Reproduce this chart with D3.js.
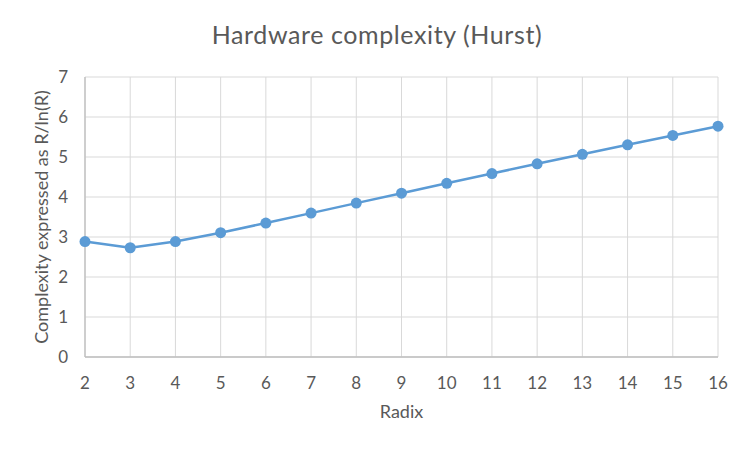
<!DOCTYPE html>
<html>
<head>
<meta charset="utf-8">
<script src="https://cdn.jsdelivr.net/npm/d3@7"></script>
<style>
  body { margin: 0; background: #fff; }
  text { font-family: Lato, "Open Sans", sans-serif; fill: #595959; }
</style>
</head>
<body>
<svg id="chart" width="750" height="450"></svg>
<script>
var radix = [2, 3, 4, 5, 6, 7, 8, 9, 10, 11, 12, 13, 14, 15, 16];
var complexity = [2.885, 2.731, 2.885, 3.107, 3.349, 3.597, 3.847, 4.096, 4.343, 4.587, 4.829, 5.068, 5.305, 5.539, 5.771];
var yTicks = [0, 1, 2, 3, 4, 5, 6, 7];

var svg = d3.select("#chart");
var plotLeft = 85, plotRight = 718, plotTop = 77, plotBottom = 357;

var x = d3.scaleLinear().domain([2, 16]).range([plotLeft, plotRight]);
var y = d3.scaleLinear().domain([0, 7]).range([plotBottom, plotTop]);

// gridlines
svg.append("g").selectAll("line")
  .data(yTicks)
  .enter().append("line")
  .attr("x1", plotLeft).attr("x2", plotRight)
  .attr("y1", function(d) { return y(d); })
  .attr("y2", function(d) { return y(d); })
  .attr("stroke", "#d9d9d9").attr("stroke-width", 1);

svg.append("g").selectAll("line")
  .data(radix)
  .enter().append("line")
  .attr("x1", function(d) { return x(d); })
  .attr("x2", function(d) { return x(d); })
  .attr("y1", plotTop).attr("y2", plotBottom)
  .attr("stroke", "#d9d9d9").attr("stroke-width", 1);

// axis lines
svg.append("line")
  .attr("x1", plotLeft).attr("x2", plotRight).attr("y1", plotBottom).attr("y2", plotBottom)
  .attr("stroke", "#bfbfbf").attr("stroke-width", 1.3);
svg.append("line")
  .attr("x1", plotLeft).attr("x2", plotLeft).attr("y1", plotTop).attr("y2", plotBottom)
  .attr("stroke", "#bfbfbf").attr("stroke-width", 1.3);

// tick labels
svg.append("g").selectAll("text")
  .data(yTicks)
  .enter().append("text")
  .attr("x", 68)
  .attr("y", function(d) { return y(d); })
  .attr("dy", ".35em")
  .attr("text-anchor", "end")
  .style("font-size", "17px")
  .text(function(d) { return d; });

svg.append("g").selectAll("text")
  .data(radix)
  .enter().append("text")
  .attr("x", function(d) { return x(d); })
  .attr("y", 389)
  .attr("text-anchor", "middle")
  .style("font-size", "17px")
  .text(function(d) { return d; });

// titles
svg.append("text")
  .attr("x", 377).attr("y", 44)
  .attr("text-anchor", "middle")
  .style("font-size", "25px")
  .style("letter-spacing", "0.6px")
  .text("Hardware complexity (Hurst)");

svg.append("text")
  .attr("x", (plotLeft + plotRight) / 2).attr("y", 418)
  .attr("text-anchor", "middle")
  .style("font-size", "18px")
  .text("Radix");

svg.append("text")
  .attr("transform", "translate(48," + (plotTop + plotBottom) / 2 + ") rotate(-90)")
  .attr("text-anchor", "middle")
  .style("font-size", "18px")
  .text("Complexity expressed as R/ln(R)");

// series
var pts = radix.map(function(r, i) { return [r, complexity[i]]; });
var line = d3.line()
  .x(function(d) { return x(d[0]); })
  .y(function(d) { return y(d[1]); });

svg.append("path")
  .datum(pts)
  .attr("d", line)
  .attr("fill", "none")
  .attr("stroke", "#5b9bd5")
  .attr("stroke-width", 2.5)
  .attr("stroke-linejoin", "round");

svg.append("g").selectAll("circle")
  .data(pts)
  .enter().append("circle")
  .attr("cx", function(d) { return x(d[0]); })
  .attr("cy", function(d) { return y(d[1]); })
  .attr("r", 5.5)
  .attr("fill", "#5b9bd5");
</script>
</body>
</html>
